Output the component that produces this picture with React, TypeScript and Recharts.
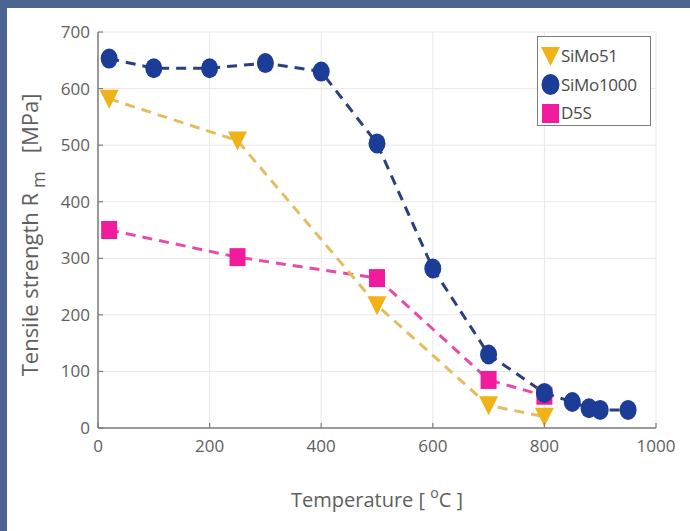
import React from 'react';
import { LineChart, Line, XAxis, YAxis, CartesianGrid, Legend, Label } from 'recharts';

const simo51X = [20, 250, 500, 700, 800];
const simo51Y = [582, 508, 217, 40, 20];
const simo1000X = [20, 100, 200, 300, 400, 500, 600, 700, 800, 850, 880, 900, 950];
const simo1000Y = [653, 636, 636, 645, 630, 503, 282, 130, 62, 46, 35, 32, 32];
const d5sX = [20, 250, 500, 700, 800];
const d5sY = [350, 302, 265, 85, 57];
const xTicks = [0, 200, 400, 600, 800, 1000];
const yTicks = [0, 100, 200, 300, 400, 500, 600, 700];
const seriesNames = ['SiMo51', 'SiMo1000', 'D5S'];

const zip = (xs: number[], ys: number[]) => xs.map((x, i) => ({ x, y: ys[i] }));
const simo51 = zip(simo51X, simo51Y);
const simo1000 = zip(simo1000X, simo1000Y);
const d5s = zip(d5sX, d5sY);

const YEL = '#efb318';
const YEL_LINE = '#e2bd62';
const BLU = '#1b3c97';
const BLU_LINE = '#2b3f7a';
const MAG = '#f01b9d';
const MAG_LINE = '#e94aa8';
const TXT = '#5e5e5e';
const AX = '#7d7d7d';
const FONT = '"Open Sans", "Noto Sans", sans-serif';
const TM = 8;

const Tri = (p: any) => {
  const { cx, cy, index } = p;
  if (cx == null || cy == null) return <g key={`t${index}`} />;
  return <polygon key={`t${index}`} points={`${cx - 9.5},${cy - 9} ${cx + 9.5},${cy - 9} ${cx},${cy + 10}`} fill={YEL} />;
};
const Circ = (p: any) => {
  const { cx, cy, index } = p;
  if (cx == null || cy == null) return <g key={`c${index}`} />;
  return <ellipse key={`c${index}`} cx={cx} cy={cy} rx={8.5} ry={10} fill={BLU} />;
};
const Sq = (p: any) => {
  const { cx, cy, index } = p;
  if (cx == null || cy == null) return <g key={`s${index}`} />;
  return <rect key={`s${index}`} x={cx - 8} y={cy - 9} width={16} height={18} fill={MAG} />;
};

const XTick = (p: any) => {
  const { x, y, payload } = p;
  const ay = y - TM;
  return (
    <g>
      <line x1={x} x2={x} y1={ay} y2={ay - 5} stroke={AX} strokeWidth={1.2} />
      <text x={x} y={y} dy={16} textAnchor="middle" fill={TXT} fontSize={17} fontFamily={FONT}>{payload.value}</text>
    </g>
  );
};
const YTick = (p: any) => {
  const { x, y, payload } = p;
  const ax = x + TM;
  return (
    <g>
      <line x1={ax} x2={ax + 5} y1={y} y2={y} stroke={AX} strokeWidth={1.2} />
      <text x={x} y={y} dy={6} textAnchor="end" fill={TXT} fontSize={17} fontFamily={FONT}>{payload.value}</text>
    </g>
  );
};

const YLabel = (p: any) => {
  const vb = p.viewBox || {};
  const cx = 38;
  const cy = (vb.y ?? 32) + (vb.height ?? 396) / 2 + 5;
  return (
    <text transform={`rotate(-90 ${cx} ${cy})`} x={cx} y={cy} textAnchor="middle" fill={TXT} fontSize={22} fontFamily={FONT}>
      <tspan>Tensile strength R</tspan>
      <tspan dx={5} dy={7} fontSize={18}>m</tspan>
      <tspan dx={18} dy={-7}>[MPa]</tspan>
    </text>
  );
};

const XLabel = (p: any) => {
  const vb = p.viewBox || {};
  const cx = (vb.x ?? 98) + (vb.width ?? 558) / 2;
  const cy = 507;
  return (
    <text x={cx} y={cy} textAnchor="middle" fill={TXT} fontSize={20} fontFamily={FONT}>
      <tspan>Temperature [ </tspan>
      <tspan dy={-9} fontSize={14}>o</tspan>
      <tspan dy={9}>C ]</tspan>
    </text>
  );
};

const markerFor = (name: string) => {
  if (name === 'SiMo51') return <polygon points="0,1 19,1 9.5,20" fill={YEL} />;
  if (name === 'SiMo1000') return <ellipse cx={9.5} cy={10.5} rx={9} ry={10.5} fill={BLU} />;
  return <rect x={1} y={1} width={17} height={19} fill={MAG} />;
};

const LegendBox = () => (
  <div style={{ width: 114, height: 90, border: `1.5px solid ${AX}`, background: '#fff', boxSizing: 'border-box', paddingTop: 5, paddingLeft: 3 }}>
    {seriesNames.map((n) => (
      <div key={n} style={{ display: 'flex', alignItems: 'center', height: 28.5 }}>
        <svg width={19} height={21} style={{ display: 'block' }}>{markerFor(n)}</svg>
        <span style={{ marginLeft: 1, fontFamily: FONT, fontSize: 17, color: '#4a4a4a', lineHeight: '20px', letterSpacing: -0.3 }}>{n}</span>
      </div>
    ))}
  </div>
);

export default function App() {
  return (
    <div style={{ position: 'absolute', left: 0, top: 0, width: 690, height: 531, background: '#fff', overflow: 'hidden' }}>
      <div style={{ position: 'absolute', left: 0, top: 0, width: 690, height: 8, background: '#4b6590' }} />
      <div style={{ position: 'absolute', left: 0, top: 0, width: 7, height: 531, background: '#4b6590' }} />
      <div style={{ position: 'absolute', left: 0, top: 0 }}>
        <LineChart width={690} height={531} margin={{ top: 32, right: 34, bottom: 43, left: 38 }}>
          <CartesianGrid stroke="#e8e8e8" strokeWidth={1} />
          <XAxis dataKey="x" type="number" domain={[0, 1000]} ticks={xTicks} height={60} tickSize={0} tickMargin={TM}
            tickLine={false} axisLine={{ stroke: AX, strokeWidth: 1.5 }} tick={<XTick />} allowDataOverflow>
            <Label content={<XLabel />} />
          </XAxis>
          <XAxis xAxisId="top" orientation="top" dataKey="x" type="number" domain={[0, 1000]} ticks={xTicks} height={0}
            mirror tick={false} tickSize={5} tickLine={{ stroke: AX, strokeWidth: 1.2 }} axisLine={{ stroke: AX, strokeWidth: 1.5 }} />
          <YAxis dataKey="y" type="number" domain={[0, 700]} ticks={yTicks} width={60} tickSize={0} tickMargin={TM}
            tickLine={false} axisLine={{ stroke: AX, strokeWidth: 1.5 }} tick={<YTick />} allowDataOverflow>
            <Label content={<YLabel />} />
          </YAxis>
          <YAxis yAxisId="right" orientation="right" dataKey="y" type="number" domain={[0, 700]} ticks={yTicks} width={0}
            mirror tick={false} tickSize={5} tickLine={{ stroke: AX, strokeWidth: 1.2 }} axisLine={{ stroke: AX, strokeWidth: 1.5 }} />
          <Line name="D5S" data={d5s} dataKey="y" stroke={MAG_LINE} strokeWidth={3} strokeDasharray="10 7" dot={Sq} activeDot={false} isAnimationActive={false} />
          <Line name="SiMo51" data={simo51} dataKey="y" stroke={YEL_LINE} strokeWidth={3} strokeDasharray="10 7" dot={Tri} activeDot={false} isAnimationActive={false} />
          <Line name="SiMo1000" data={simo1000} dataKey="y" stroke={BLU_LINE} strokeWidth={3} strokeDasharray="10 7" dot={Circ} activeDot={false} isAnimationActive={false} />
          <Legend layout="horizontal" verticalAlign="middle" align="center" wrapperStyle={{ left: 537, top: 36, width: 114, height: 90 }} content={<LegendBox />} />
        </LineChart>
      </div>
    </div>
  );
}
